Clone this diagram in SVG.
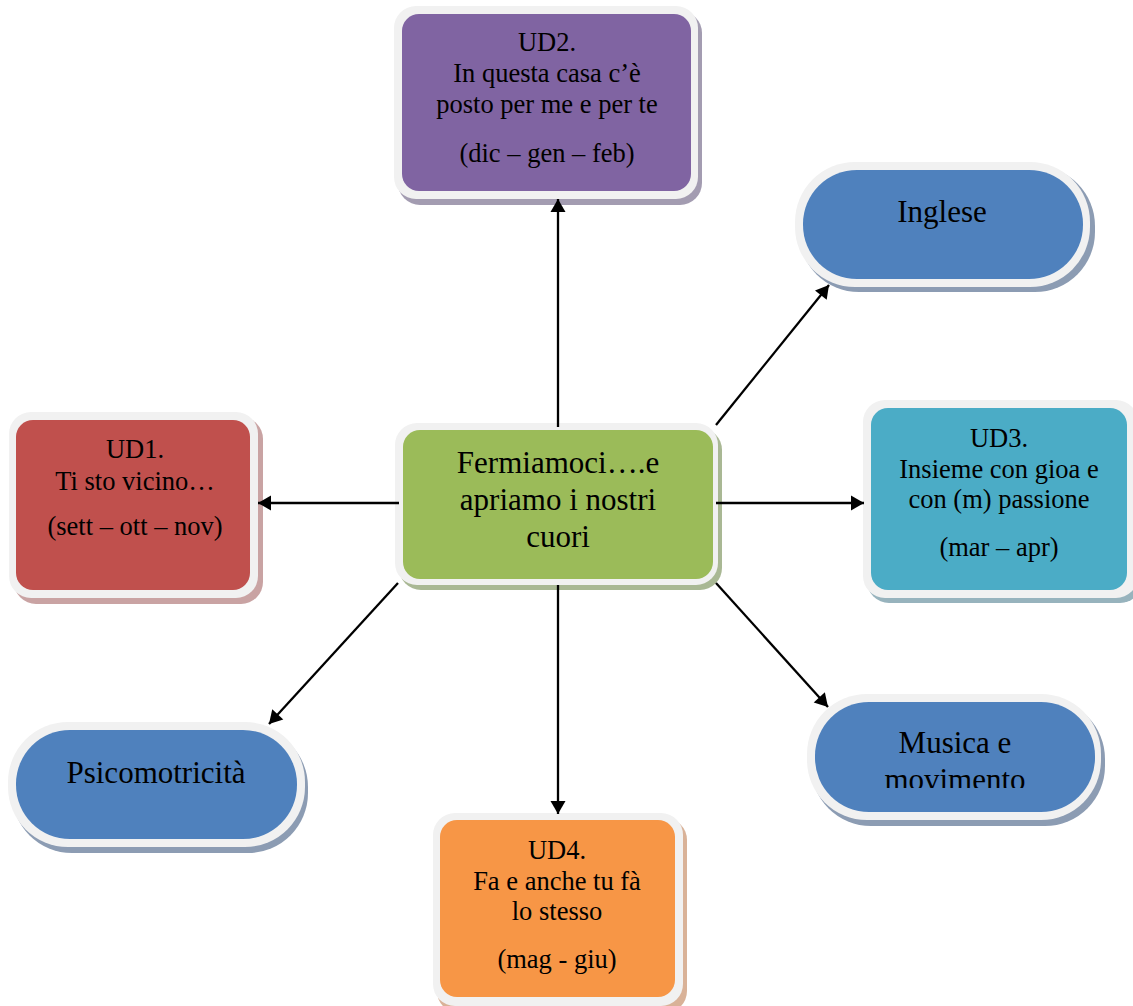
<svg xmlns="http://www.w3.org/2000/svg" width="1133" height="1006" viewBox="0 0 1133 1006">
<style>
.frame{fill:#f1f1f1;}
.t{font-family:"Liberation Serif","Times New Roman",serif;fill:#000;text-anchor:middle;}
.s{font-size:26.5px;}
.b{font-size:31px;}
.conn line{stroke:#000;stroke-width:2.3;marker-end:url(#ah);}
</style>
<defs>
<marker id="ah" markerUnits="userSpaceOnUse" markerWidth="16" markerHeight="16" viewBox="0 0 16 16" refX="14" refY="8" orient="auto">
<path d="M1,0.5 L14,8 L1,15.5 Z" fill="#000"/>
</marker>
<clipPath id="clipMus"><rect x="800" y="690" width="310" height="98"/></clipPath>
</defs>
<rect width="1133" height="1006" fill="#fff"/>

<g id="ud2">
<rect x="398" y="11" width="304" height="194" rx="22" fill="#a39cb1"/>
<rect class="frame" x="394" y="6" width="304" height="193" rx="22"/>
<rect x="402" y="14" width="289" height="177" rx="17" fill="#8064a2"/>
<text class="t s" x="547" y="51">UD2.</text>
<text class="t s" x="547" y="82">In questa casa c’è</text>
<text class="t s" x="547" y="113">posto per me e per te</text>
<text class="t s" x="547" y="162">(dic – gen – feb)</text>
</g>

<g id="inglese">
<rect x="799" y="166" width="296" height="126" rx="60" fill="#8c9cb3"/>
<rect class="frame" x="795" y="162" width="295" height="125" rx="60"/>
<rect x="803" y="170" width="280" height="109" rx="54" fill="#4f81bd"/>
<text class="t b" x="942" y="222">Inglese</text>
</g>

<g id="ud1">
<rect x="14" y="417" width="249" height="187" rx="22" fill="#c9a3a3"/>
<rect class="frame" x="9" y="412" width="249" height="186" rx="22"/>
<rect x="16" y="420" width="234" height="170" rx="17" fill="#c0504d"/>
<text class="t s" x="135" y="458">UD1.</text>
<text class="t s" x="135" y="490">Ti sto vicino…</text>
<text class="t s" x="135" y="535">(sett – ott – nov)</text>
</g>

<g id="center">
<rect x="399" y="428" width="323" height="162" rx="22" fill="#a9b894"/>
<rect class="frame" x="395" y="423" width="323" height="162" rx="22"/>
<rect x="403" y="430" width="310" height="149" rx="17" fill="#9bbb59"/>
<text class="t b" x="558" y="473">Fermiamoci….e</text>
<text class="t b" x="558" y="510">apriamo i nostri</text>
<text class="t b" x="558" y="547">cuori</text>
</g>

<g id="ud3">
<rect x="867" y="405" width="275" height="198" rx="22" fill="#97b3bd"/>
<rect class="frame" x="863" y="400" width="275" height="198" rx="22"/>
<rect x="871" y="408" width="256" height="182" rx="17" fill="#4bacc6"/>
<text class="t s" x="999" y="447">UD3.</text>
<text class="t s" x="999" y="478">Insieme con gioa e</text>
<text class="t s" x="999" y="508">con (m) passione</text>
<text class="t s" x="999" y="556">(mar – apr)</text>
</g>

<g id="musica">
<rect x="811" y="699" width="294" height="127" rx="60" fill="#8c9cb3"/>
<rect class="frame" x="807" y="694" width="294" height="126" rx="60"/>
<rect x="815" y="702" width="280" height="110" rx="54" fill="#4f81bd"/>
<g clip-path="url(#clipMus)">
<text class="t b" x="955" y="753">Musica e</text>
<text class="t b" x="955" y="790">movimento</text>
</g>
</g>

<g id="psicomotricita">
<rect x="12" y="727" width="296" height="126" rx="60" fill="#8c9cb3"/>
<rect class="frame" x="8" y="722" width="297" height="125" rx="60"/>
<rect x="16" y="730" width="281" height="109" rx="54" fill="#4f81bd"/>
<text class="t b" x="156" y="783">Psicomotricità</text>
</g>

<g id="ud4">
<rect x="437" y="818" width="250" height="195" rx="22" fill="#d9b298"/>
<rect class="frame" x="433" y="813" width="250" height="193" rx="22"/>
<rect x="440" y="820" width="235" height="177" rx="17" fill="#f79646"/>
<text class="t s" x="557" y="859">UD4.</text>
<text class="t s" x="557" y="890">Fa e anche tu fà</text>
<text class="t s" x="557" y="920">lo stesso</text>
<text class="t s" x="557" y="968">(mag - giu)</text>
</g>

<g id="connectors" class="conn">
<line x1="558" y1="427" x2="558" y2="199"/>
<line x1="716" y1="425" x2="829" y2="285"/>
<line x1="716" y1="503" x2="864" y2="503"/>
<line x1="716" y1="583" x2="828" y2="707"/>
<line x1="558" y1="585" x2="558" y2="814"/>
<line x1="398" y1="583" x2="269" y2="724"/>
<line x1="399" y1="503" x2="258" y2="503"/>
</g>
</svg>
